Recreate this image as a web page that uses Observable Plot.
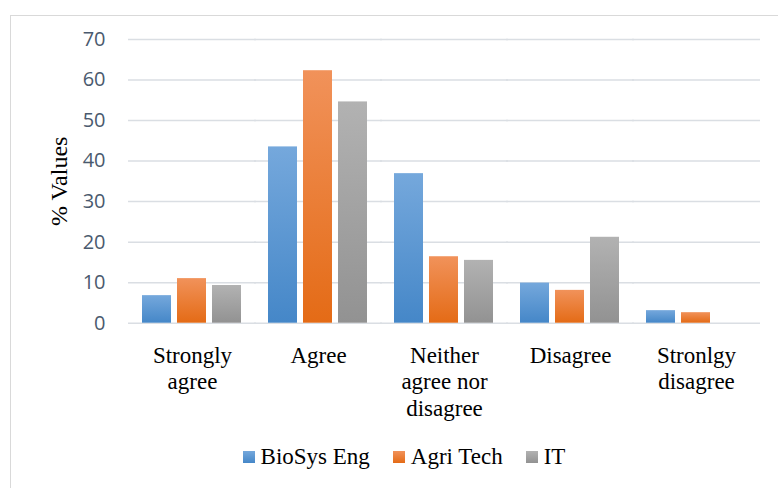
<!DOCTYPE html>
<html><head><meta charset="utf-8">
<script src="https://cdn.jsdelivr.net/npm/d3@7"></script>
<script src="https://cdn.jsdelivr.net/npm/@observablehq/plot@0.6"></script>
<style>
body{margin:0;background:#fff;width:778px;height:488px;overflow:hidden;position:relative;}
#box{position:absolute;left:10px;top:15px;width:788px;height:500px;border:1px solid #d9d9d9;box-sizing:border-box;}
#chart{position:absolute;left:0;top:0;}
#legend{position:absolute;left:10px;top:444px;width:788px;display:flex;justify-content:center;align-items:center;font-family:"Liberation Serif","Times New Roman",serif;font-size:23px;color:#000;}
.item{display:flex;align-items:center;margin:0 11.5px;}
.sw{width:12px;height:12px;margin-right:6px;}
g[aria-label="y-axis tick label"] text{font-family:"Open Sans",sans-serif;font-size:20px;fill:#4a5a6e;}
g[aria-label="fx-axis tick label"] text{font-family:"Liberation Serif",serif;font-size:23px;fill:#000;}
</style>
</head><body>
<div id="box"></div>
<div id="chart"></div>
<div id="legend"></div>
<script>
const categories = ["Strongly agree","Agree","Neither agree nor disagree","Disagree","Stronlgy disagree"];
const catLabels = ["Strongly\nagree","Agree","Neither\nagree nor\ndisagree","Disagree","Stronlgy\ndisagree"];
const series = ["BioSys Eng","Agri Tech","IT"];
const bioSysEng = [6.8,43.5,36.9,9.9,3.1];
const agriTech = [11.0,62.3,16.4,8.1,2.6];
const itValues = [9.3,54.6,15.5,21.2,0];
const yTicks = [0,10,20,30,40,50,60,70];
const gradColors = {"BioSys Eng":["#75a8dc","#4587c8"],"Agri Tech":["#f1925a","#e46b16"],"IT":["#b2b2b2","#929292"]};
const gradIds = {"BioSys Eng":"gBio","Agri Tech":"gAgri","IT":"gIT"};

const valuesBySeries = {"BioSys Eng":bioSysEng,"Agri Tech":agriTech,"IT":itValues};
const rows = [];
categories.forEach((c,i)=>series.forEach(s=>rows.push({cat:c, series:s, value:valuesBySeries[s][i]})));

const chart = Plot.plot({
  width:778, height:430,
  marginTop:39, marginBottom:107.3, marginLeft:126, marginRight:16,
  style:{background:"transparent", overflow:"visible"},
  fx:{domain:categories, paddingInner:0.21, paddingOuter:0.11, label:null},
  x:{domain:series, paddingInner:0.17, paddingOuter:0, axis:null},
  y:{domain:[0,70], ticks:yTicks, label:null},
  color:{type:"identity"},
  marks:[
    Plot.ruleY(yTicks,{stroke:"#dadee3", strokeOpacity:1, strokeWidth:1.5, insetLeft:-14, insetRight:-14}),
    Plot.barY(rows,{fx:"cat", x:"series", y:"value", fill:d=>`url(#${gradIds[d.series]})`}),
    Plot.axisY(yTicks,{tickSize:0, tickPadding:37, label:null, fontSize:20}),
    Plot.axisFx({anchor:"bottom", tickSize:0, tickPadding:21, lineHeight:1.15, fontSize:23,
      tickFormat:d=>catLabels[categories.indexOf(d)], label:null}),
    Plot.text(["% Values"],{facet:"super", frameAnchor:"left", textAnchor:"middle", text:d=>d, rotate:-90, dx:-83,
      fontSize:24, fontFamily:"Liberation Serif", fill:"#000"})
  ]
});
const defs = d3.select(chart).insert("defs",":first-child");
series.forEach(s=>{
  const g = defs.append("linearGradient").attr("id",gradIds[s]).attr("x1",0).attr("y1",0).attr("x2",0).attr("y2",1);
  g.append("stop").attr("offset","0%").attr("stop-color",gradColors[s][0]);
  g.append("stop").attr("offset","100%").attr("stop-color",gradColors[s][1]);
});
document.getElementById("chart").appendChild(chart);

const legend = document.getElementById("legend");
series.forEach(s=>{
  const it = document.createElement("div"); it.className="item";
  const sw = document.createElement("span"); sw.className="sw";
  sw.style.background = `linear-gradient(${gradColors[s][0]},${gradColors[s][1]})`;
  const t = document.createElement("span"); t.textContent = s;
  it.appendChild(sw); it.appendChild(t); legend.appendChild(it);
});
</script>
</body></html>
